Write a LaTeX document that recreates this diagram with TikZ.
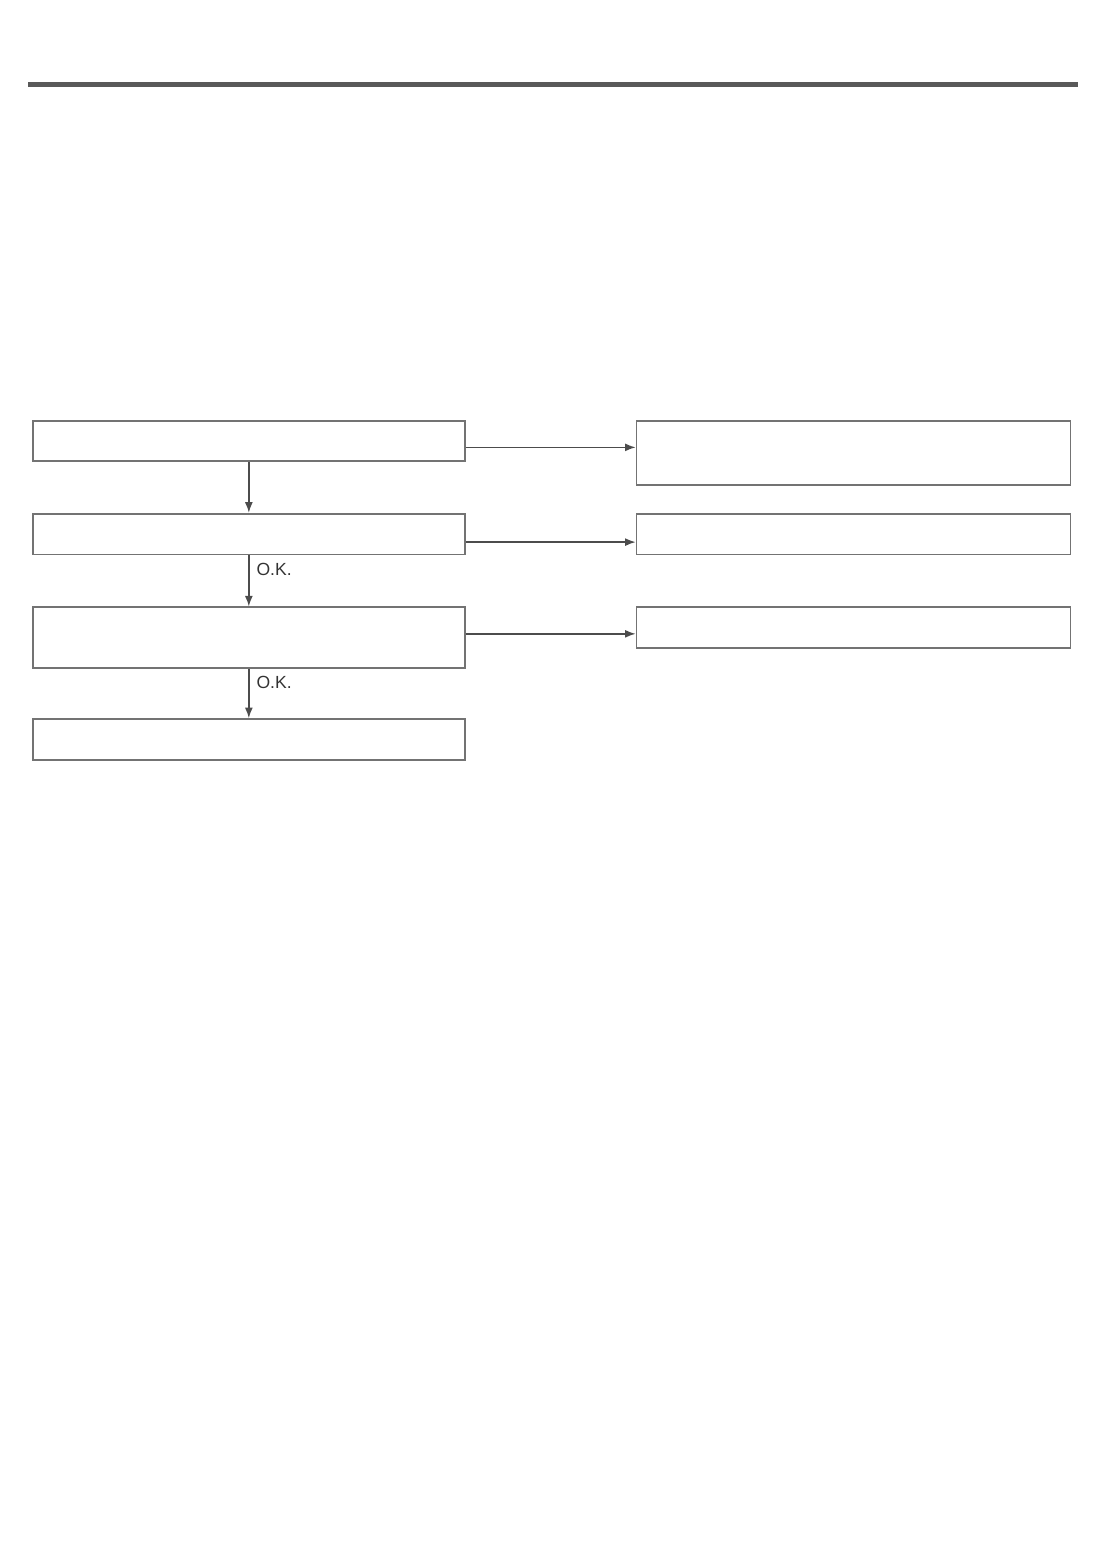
\documentclass[tikz,border=0pt]{standalone}
\usepackage{fontspec}
\setmainfont{Liberation Sans}
\usetikzlibrary{positioning,arrows.meta}
\tikzset{%
  font=\small,>={Latex[length=6pt,width=4.5pt]},
  stepbox/.style={draw=black!55,line width=1pt,rectangle,minimum width=8.64cm,minimum height=0.82cm,inner sep=0pt},
  line/.style={draw=black!70,line width=0.8pt,->},
  oklabel/.style={right,inner sep=4pt,text=black!80,font=\normalsize}
}

\begin{document}
\begin{tikzpicture}[x=0.02cm,y=-0.02cm]
  \useasboundingbox (0,0) rectangle (1104,1568);
  % header rule
  \fill[black!65] (28,82) rectangle (1078,87);
  % left column
  \node[stepbox,minimum height=0.8cm,anchor=north west] (check1) at (32,420) {};
  \node[stepbox,below=1.02cm of check1] (check2) {};
  \node[stepbox,minimum height=1.22cm,below=1.02cm of check2] (check3) {};
  \node[stepbox,below=0.98cm of check3] (check4) {};
  % right column
  \node[stepbox,minimum width=8.68cm,minimum height=1.28cm,right=3.4cm of check1.north east,anchor=north west] (repair1) {};
  \node[stepbox,minimum width=8.68cm,right=3.4cm of check2.east,anchor=west] (repair2) {};
  \node[stepbox,minimum width=8.68cm,right=3.4cm of check3.north east,anchor=north west] (repair3) {};
  % connectors
  \draw[line] (check1) -- (check2);
  \draw[line] (check2) -- node[oklabel,pos=0.27] {O.K.} (check3);
  \draw[line] (check3) -- node[oklabel,pos=0.27] {O.K.} (check4);
  \draw[line] ([yshift=-0.13cm]check1.east) -- ([yshift=-0.13cm]check1.east -| repair1.west);
  \draw[line] ([yshift=-0.16cm]check2.east) -- ([yshift=-0.16cm]check2.east -| repair2.west);
  \draw[line] ([yshift=0.08cm]check3.east) -- ([yshift=0.08cm]check3.east -| repair3.west);
\end{tikzpicture}
\end{document}
